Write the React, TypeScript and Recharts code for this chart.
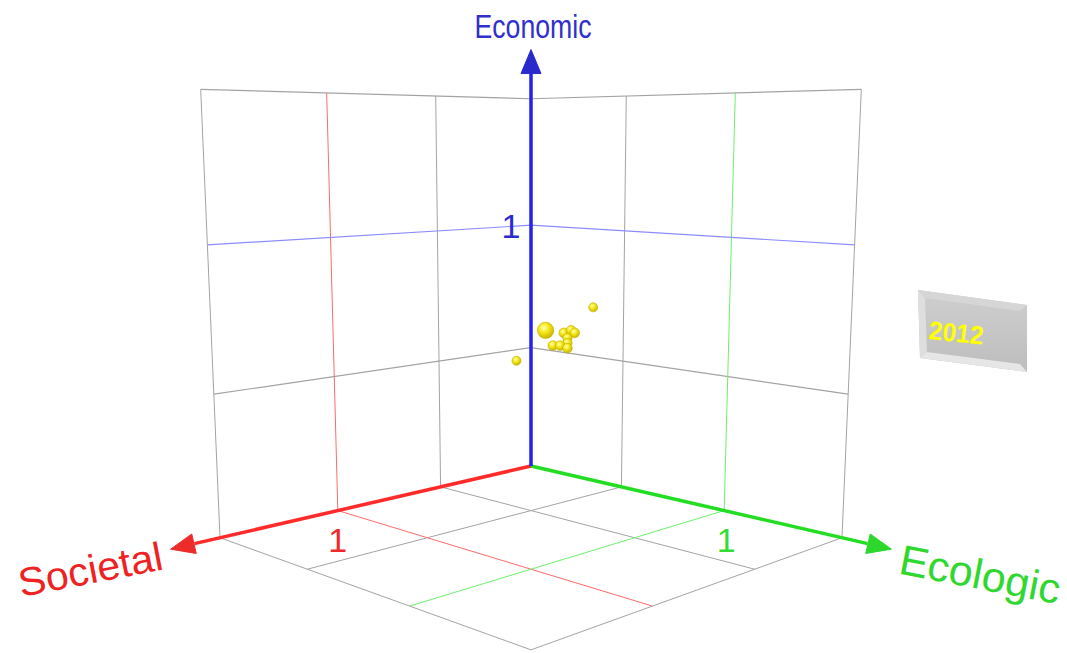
import { ScatterChart, Scatter, XAxis, YAxis, ZAxis, ReferenceLine } from 'recharts';

// bubbles: societal / ecologic / economic score, weight drives bubble size
const dotSocietal = [0.16, 0.03, 0.24, 0.11, 0.09, 0.08, 0.1, 0.1, 0.14, 0.12, 0.1];
const dotEcologic = [0.24, 0.37, 0.16, 0.29, 0.31, 0.32, 0.3, 0.3, 0.26, 0.28, 0.3];
const dotEconomic = [0.61, 0.7, 0.49, 0.6, 0.61, 0.6, 0.58, 0.56, 0.55, 0.55, 0.54];
const dotWeight = [4, 1, 1, 1.2, 1.2, 1.2, 1.1, 1.1, 1.2, 1.2, 1.2];

const gridTicks = [0.5, 1, 1.5];
const labelTick = 1;
const axisMax = 1.5;
const axisTitles = ['Societal', 'Ecologic', 'Economic'];
const year = '2012';

const WIDTH = 1067;
const HEIGHT = 653;

// simple perspective camera looking at the origin corner
function project(s: number, g: number, h: number) {
  const a = s + g;
  const b = g - s;
  const w = 1 - 0.12 * a - 0.032 * h;
  return { x: 531 + (170 * b) / w, y: (466 - 16.7 * a - 248 * h) / w };
}

type P3 = [number, number, number];
interface Seg {
  from: P3;
  to: P3;
  color: string;
  width: number;
}

const GRAY = '#a3a3a3';
const RED = '#ff2a2a';
const GREEN = '#22dd22';
const BLUE = '#2222ee';

const graySegs: Seg[] = [];
const colorSegs: Seg[] = [];
gridTicks.forEach((t) => {
  const isOne = t === labelTick;
  const list = isOne ? colorSegs : graySegs;
  // left wall (ecologic = 0)
  list.push({ from: [t, 0, 0], to: [t, 0, axisMax], color: isOne ? '#ff6a6a' : GRAY, width: 1 });
  list.push({ from: [0, 0, t], to: [axisMax, 0, t], color: isOne ? '#8c8cff' : GRAY, width: 1.2 });
  // right wall (societal = 0)
  list.push({ from: [0, t, 0], to: [0, t, axisMax], color: isOne ? '#6cf06c' : GRAY, width: 1 });
  list.push({ from: [0, 0, t], to: [0, axisMax, t], color: isOne ? '#8c8cff' : GRAY, width: 1.2 });
  // floor
  list.push({ from: [t, 0, 0], to: [t, axisMax, 0], color: isOne ? '#ff6a6a' : GRAY, width: 1 });
  list.push({ from: [0, t, 0], to: [axisMax, t, 0], color: isOne ? '#6cf06c' : GRAY, width: 1 });
});

const axisSegs: Seg[] = [
  { from: [0, 0, 0], to: [1.6, 0, 0], color: RED, width: 3.5 },
  { from: [0, 0, 0], to: [0, 1.6, 0], color: GREEN, width: 3.5 },
  { from: [0, 0, 0], to: [0, 0, 1.62], color: BLUE, width: 3.5 },
];

const arrows = [
  { base: [1.58, 0, 0] as P3, tip: [1.69, 0, 0] as P3, color: '#ee2b2b' },
  { base: [0, 1.58, 0] as P3, tip: [0, 1.69, 0] as P3, color: '#2bd82b' },
  { base: [0, 0, 1.6] as P3, tip: [0, 0, 1.69] as P3, color: '#2a2acc' },
];

const arrowData = arrows.map((a) => {
  const p = project(...a.tip);
  const q = project(...a.base);
  return { x: p.x, y: p.y, angle: Math.atan2(p.y - q.y, p.x - q.x), color: a.color };
});

const labels = [
  { at: [1.69, 0, 0] as P3, text: axisTitles[0], dx: -6, dy: 20, size: 40, rot: -11, anchor: 'end', len: 146, color: '#ee2222' },
  { at: [0, 1.69, 0] as P3, text: axisTitles[1], dx: 6, dy: 24, size: 42, rot: 11, anchor: 'start', len: 163, color: '#2fd82f' },
  { at: [0, 0, 1.69] as P3, text: axisTitles[2], dx: 2, dy: -12, size: 33, rot: 0, anchor: 'middle', len: 117, color: '#3030cc' },
  { at: [labelTick, 0, 0] as P3, text: String(labelTick), dx: 0, dy: 41, size: 34, rot: 0, anchor: 'middle', len: 0, color: '#ee2a2a' },
  { at: [0, labelTick, 0] as P3, text: String(labelTick), dx: 2, dy: 41, size: 34, rot: 0, anchor: 'middle', len: 0, color: '#33dd33' },
  { at: [0, 0, labelTick] as P3, text: String(labelTick), dx: -20, dy: 13, size: 34, rot: 0, anchor: 'middle', len: 0, color: '#2a2ad0' },
];

const labelData = labels.map((l) => {
  const p = project(...l.at);
  return { ...l, x: p.x, y: p.y };
});

const dotData = dotSocietal.map((s, i) => {
  const p = project(s, dotEcologic[i], dotEconomic[i]);
  return { x: p.x, y: p.y, weight: dotWeight[i] };
});

function segProps(seg: Seg) {
  const a = project(...seg.from);
  const b = project(...seg.to);
  return [
    { x: a.x, y: a.y },
    { x: b.x, y: b.y },
  ];
}

const ArrowShape = (props: any) => {
  const { cx, cy, payload } = props;
  const len = 24;
  const half = 10;
  const ux = Math.cos(payload.angle);
  const uy = Math.sin(payload.angle);
  const bx = cx - ux * len;
  const by = cy - uy * len;
  const pts = `${cx},${cy} ${bx - uy * half},${by + ux * half} ${bx + uy * half},${by - ux * half}`;
  return <polygon points={pts} fill={payload.color} stroke={payload.color} strokeWidth={1} strokeLinejoin="round" />;
};

const LabelShape = (props: any) => {
  const { cx, cy, payload } = props;
  const x = cx + payload.dx;
  const y = cy + payload.dy;
  return (
    <text
      x={x}
      y={y}
      fill={payload.color}
      fontSize={payload.size}
      fontFamily="Liberation Sans, Arial, sans-serif"
      textAnchor={payload.anchor}
      transform={payload.rot ? `rotate(${payload.rot} ${x} ${y})` : undefined}
      {...(payload.len ? { textLength: payload.len, lengthAdjust: 'spacingAndGlyphs' } : {})}
    >
      {payload.text}
    </text>
  );
};

const BallShape = (props: any) => {
  const { cx, cy, size } = props;
  const r = size ? Math.sqrt(size / Math.PI) : 4.5;
  return <circle cx={cx} cy={cy} r={r} fill="url(#ballGrad)" stroke="#c2b000" strokeWidth={0.6} />;
};

export default function App() {
  return (
    <div style={{ position: 'absolute', left: 0, top: 0, width: WIDTH, height: HEIGHT, background: '#fff' }}>
      <svg width={0} height={0} style={{ position: 'absolute' }}>
        <defs>
          <radialGradient id="ballGrad" cx="40%" cy="35%" r="65%">
            <stop offset="0%" stopColor="#ffffb0" />
            <stop offset="45%" stopColor="#f5e81a" />
            <stop offset="100%" stopColor="#c9b600" />
          </radialGradient>
          <linearGradient id="badgeGrad" x1="0" y1="0" x2="0" y2="1">
            <stop offset="0%" stopColor="#cfcfcf" />
            <stop offset="100%" stopColor="#bdbdbd" />
          </linearGradient>
        </defs>
      </svg>
      <ScatterChart width={WIDTH} height={HEIGHT} margin={{ top: 0, right: 0, bottom: 0, left: 0 }}>
        <XAxis type="number" dataKey="x" domain={[0, WIDTH]} hide allowDataOverflow />
        <YAxis type="number" dataKey="y" domain={[0, HEIGHT]} reversed hide allowDataOverflow />
        <ZAxis type="number" dataKey="weight" domain={[1, 4]} range={[64, 210]} />
        {[...graySegs, ...colorSegs, ...axisSegs].map((seg, i) => (
          <ReferenceLine
            key={`seg-${i}`}
            segment={segProps(seg)}
            stroke={seg.color}
            strokeWidth={seg.width}
            ifOverflow="visible"
          />
        ))}
        <Scatter data={arrowData} shape={ArrowShape} isAnimationActive={false} />
        <Scatter data={dotData} shape={BallShape} isAnimationActive={false} />
        <Scatter data={labelData} shape={LabelShape} isAnimationActive={false} />
      </ScatterChart>
      <svg width={WIDTH} height={HEIGHT} style={{ position: 'absolute', left: 0, top: 0, pointerEvents: 'none' }}>
        <polygon points="918,290 1027,305 1027,372 920,358" fill="url(#badgeGrad)" />
        <polygon points="918,290 925,298 927,352 920,358" fill="#dedede" />
        <polygon points="920,358 927,352 1020,364 1027,372" fill="#e6e6e6" />
        <polygon points="918,290 1027,305 1020,311 925,298" fill="#d6d6d6" />
        <text
          x={928}
          y={339}
          fill="#ffff00"
          fontSize={26}
          fontWeight="bold"
          fontFamily="Liberation Sans, Arial, sans-serif"
          textLength={55}
          lengthAdjust="spacingAndGlyphs"
          transform="rotate(6 928 339)"
        >
          {year}
        </text>
      </svg>
    </div>
  );
}
